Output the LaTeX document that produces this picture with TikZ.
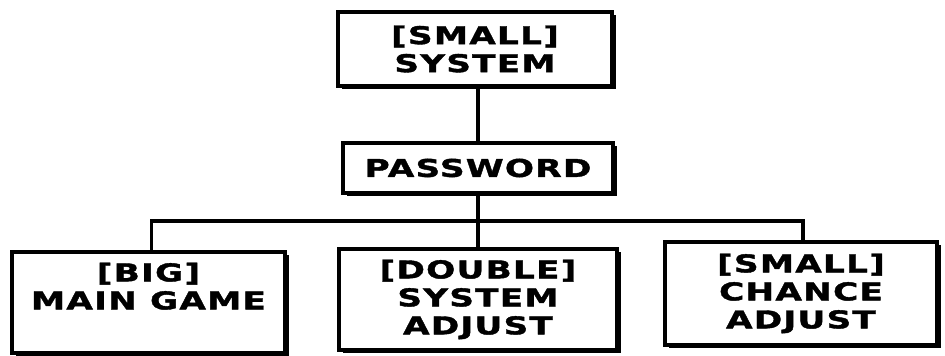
\documentclass[tikz,border=0pt]{standalone}
\usepackage{fontspec}
\newfontfamily\boxfont[FakeStretch=1.4,LetterSpace=5,FakeBold=1.6]{DejaVu Sans}
\usetikzlibrary{shadows}
\begin{document}
\begin{tikzpicture}[x=1pt,y=1pt,
  box/.style={draw=black, line width=3.2pt, fill=white, inner sep=0pt, align=center,
    font=\boxfont\bfseries\fontsize{24.5}{28}\selectfont,
    drop shadow={shadow xshift=3.5pt, shadow yshift=-3.5pt, fill=black, opacity=1}},
  link/.style={line width=3.2pt}]
\useasboundingbox (0,0) rectangle (945,356);
\node[box, minimum width=274pt, minimum height=74pt] (top) at (475,307) {[SMALL]\\SYSTEM};
\node[box, minimum width=270pt, minimum height=50pt] (pass) at (478,188) {PASSWORD};
\node[box, minimum width=273pt, minimum height=101pt] (left) at (148.5,53.5) {[BIG]\\MAIN GAME\\\vphantom{ADJUST}};
\node[box, minimum width=278pt, minimum height=101pt] (mid) at (478,56.5) {[DOUBLE]\\SYSTEM\\ADJUST};
\node[box, minimum width=272pt, minimum height=103pt] (right) at (801,62.5) {[SMALL]\\CHANCE\\ADJUST};
\coordinate (bus) at (478,135);
\draw[link] (top.south -| pass.north) -- (pass.north);
\draw[link] (pass.south) -- (mid.north);
\draw[link] ([xshift=3pt]left.north) |- (bus) -| ([xshift=2pt]right.north);
\end{tikzpicture}
\end{document}
